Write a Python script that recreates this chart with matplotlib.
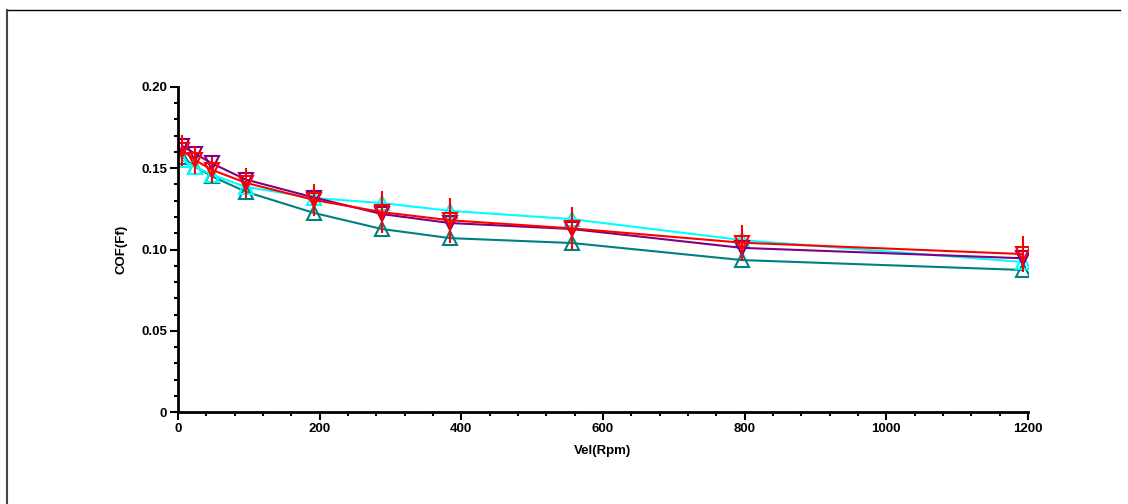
import matplotlib.pyplot as plt
from matplotlib.lines import Line2D
from matplotlib.ticker import MultipleLocator

vel = [6, 24, 48, 96, 192, 288, 384, 556, 796, 1193]
cof_cyan = [0.155, 0.151, 0.146, 0.1385, 0.1317, 0.1286, 0.1238, 0.1187, 0.1058, 0.0923]
cof_teal = [0.157, 0.151, 0.145, 0.1355, 0.1225, 0.1126, 0.107, 0.104, 0.0935, 0.0874]
cof_purple = [0.1637, 0.159, 0.153, 0.143, 0.132, 0.1218, 0.1163, 0.1126, 0.101, 0.0946]
cof_red = [0.161, 0.155, 0.149, 0.141, 0.1305, 0.123, 0.118, 0.113, 0.1042, 0.0972]
err_red = [0.0095, 0.0087, 0.008, 0.009, 0.01, 0.013, 0.014, 0.013, 0.011, 0.011]

x_ticks = [0, 200, 400, 600, 800, 1000, 1200]
y_ticks = [0, 0.05, 0.10, 0.15, 0.20]
y_labels = ["0", "0.05", "0.10", "0.15", "0.20"]

plt.rcParams["font.family"] = ["Liberation Sans", "DejaVu Sans"]
plt.rcParams["font.weight"] = "bold"

fig = plt.figure(figsize=(11.28, 5.04), dpi=100)
ax = fig.add_axes([0.1578, 0.1825, 0.7535, 0.6449])

style = dict(markersize=10.5, fillstyle="none", markeredgewidth=1.5, linewidth=1.5)
ax.plot(vel, cof_teal, color="#008080", marker="^", **style)
ax.plot(vel, cof_cyan, color="#00FFFF", marker="^", **style)
ax.plot(vel, cof_purple, color="#800080", marker="v", **style)
ax.errorbar(vel, cof_red, yerr=err_red, color="#FF0000", marker="v",
            elinewidth=1.5, capsize=0, **style)

ax.set_xlim(0, 1200)
ax.set_ylim(0, 0.20)
ax.set_xticks(x_ticks)
ax.set_yticks(y_ticks)
ax.set_yticklabels(y_labels)
ax.xaxis.set_minor_locator(MultipleLocator(40))
ax.yaxis.set_minor_locator(MultipleLocator(0.01))

for side in ["top", "right"]:
    ax.spines[side].set_visible(False)
for side in ["left", "bottom"]:
    ax.spines[side].set_linewidth(2)

ax.tick_params(which="major", length=6, width=1.5, labelsize=9.5, pad=2)
ax.tick_params(which="minor", length=3, width=1.5)
for lab in ax.get_xticklabels() + ax.get_yticklabels():
    lab.set_fontweight("bold")

ax.set_xlabel("Vel(Rpm)", fontsize=9.5, fontweight="bold", labelpad=7)
ax.set_ylabel("COF(Ff)", fontsize=9.5, fontweight="bold", labelpad=10)

# outer frame (top and left edges)
W, H = 1128, 504
fig.add_artist(Line2D([7 / W, 1120 / W], [1 - 10 / H, 1 - 10 / H],
                      transform=fig.transFigure, color="black", linewidth=1))
fig.add_artist(Line2D([7 / W, 7 / W], [1 - 10 / H, 0], transform=fig.transFigure,
                      color="#444444", linewidth=1.5))

fig.savefig("out.png", dpi=100)
